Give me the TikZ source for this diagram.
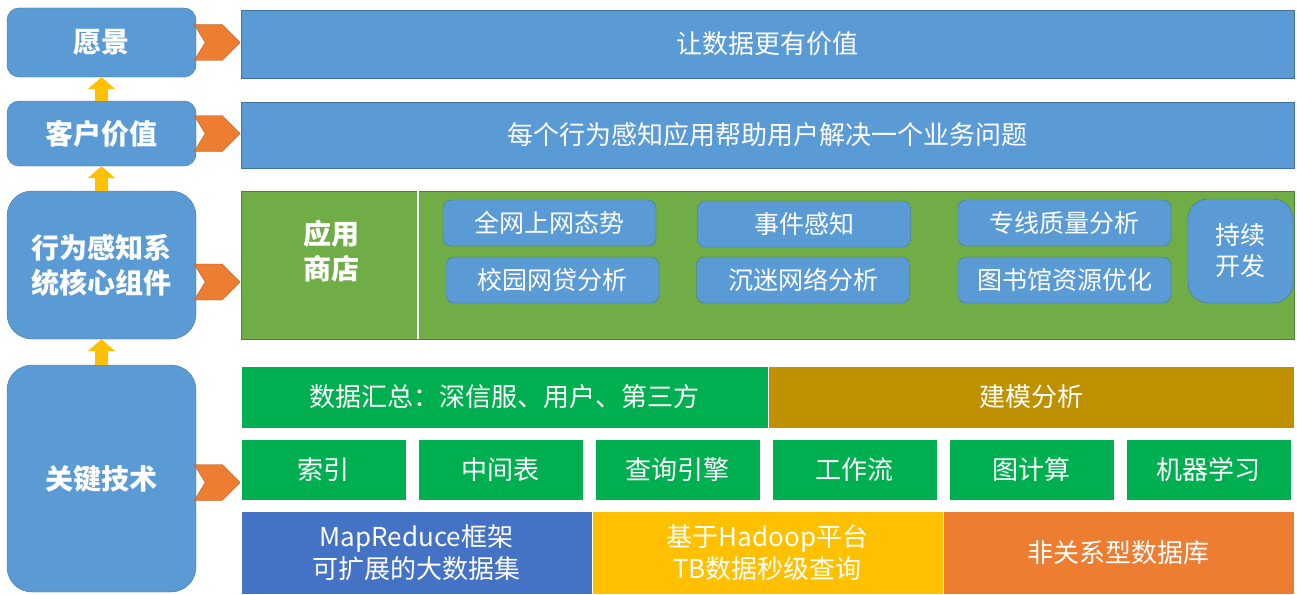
\documentclass[tikz,border=0pt]{standalone}
\usepackage{fontspec}
\setmainfont{Noto Sans CJK SC}
\usetikzlibrary{calc,arrows.meta}

\definecolor{boxblue}{HTML}{5B9BD5}
\definecolor{boxline}{HTML}{41719C}
\definecolor{storegreen}{HTML}{70AD47}
\definecolor{storeline}{HTML}{507E32}
\definecolor{techgreen}{HTML}{00B050}
\definecolor{modelgold}{HTML}{BF9000}
\definecolor{mrblue}{HTML}{4472C4}
\definecolor{hdyellow}{HTML}{FFC000}
\definecolor{nsorange}{HTML}{ED7D31}
\definecolor{chevline}{HTML}{AE5A21}

\tikzset{
  side/.style={draw=boxline, fill=boxblue, minimum width=189pt, text=white, align=center, inner sep=0pt, font=\fontsize{28}{35}\selectfont\bfseries},
  band/.style={draw=boxline, fill=boxblue, minimum width=1053pt, text=white, inner sep=0pt, font=\fontsize{26}{32}\selectfont},
  app/.style={draw=boxline, fill=boxblue, rounded corners=8pt, minimum width=213pt, minimum height=46pt, text=white, inner sep=0pt, font=\fontsize{25}{31}\selectfont},
  layer/.style={draw=white, line width=0.4pt, text=white, align=center, inner sep=0pt, font=\fontsize{26}{32}\selectfont},
  chev/.style={draw=chevline, fill=nsorange},
  up/.style={draw=hdyellow, line width=13pt, -{Triangle[width=27pt,length=12pt]}}
}

\begin{document}
\begin{tikzpicture}[x=1pt,y=-1pt]
\useasboundingbox (0,0) rectangle (1297,594);

% left column
\node[side, rounded corners=12pt, minimum height=69pt] (vision) at (101.5,42.5) {愿景};
\node[side, rounded corners=12pt, minimum height=65pt] (value) at (101.5,133.5) {客户价值};
\node[side, rounded corners=25pt, minimum height=148pt] (core) at (101.5,265) {行为感知系\\统核心组件};
\node[side, rounded corners=25pt, minimum height=227pt] (keytech) at (101.5,478.5) {关键技术};

\draw[up] (value.north) -- (vision.south);
\draw[up] (core.north) -- (value.south);
\draw[up] (keytech.north) -- (core.south);

% right column
\node[band, minimum height=68pt] (goal) at (767.5,44) {让数据更有价值};
\node[band, minimum height=66pt] (mission) at (767.5,135) {每个行为感知应用帮助用户解决一个业务问题};
\node[band, draw=storeline, fill=storegreen, minimum height=148pt] (store) at (767.5,265) {};
\draw[white, line width=1.5pt] ($(store.north west)+(177,0)$) -- ($(store.south west)+(177,0)$);
\node[text=white, align=center, font=\fontsize{28}{35}\selectfont\bfseries] (storename) at (331,251) {应用\\商店};

\node[app] (netstate) at (549.5,223) {全网上网态势};
\node[app] (loan) at (552.5,280) {校园网贷分析};
\node[app] (event) at (804,224) {事件感知};
\node[app] (addict) at (803,280) {沉迷网络分析};
\node[app] (line) at (1064.5,223) {专线质量分析};
\node[app] (library) at (1064.5,280) {图书馆资源优化};
\node[app, rounded corners=20pt, minimum width=105pt, minimum height=104pt, align=center] (devel) at (1240.5,251) {持续\\开发};

% key technology layers
\node[layer, fill=techgreen, minimum width=527pt, minimum height=62pt] (collect) at (504.5,397) {数据汇总：深信服、用户、第三方};
\node[layer, fill=modelgold, minimum width=526pt, minimum height=62pt] (model) at (1031,397) {建模分析};

\foreach \t [count=\i from 0] in {索引,中间表,查询引擎,工作流,图计算,机器学习}
  \node[layer, fill=techgreen, minimum width=165pt, minimum height=61pt] (mod\i) at (323.5+177*\i,469.5) {\t};

\node[layer, fill=mrblue, minimum width=351pt, minimum height=83pt] (mapred) at (416.5,552.5) {MapReduce框架\\可扩展的大数据集};
\node[layer, fill=hdyellow, minimum width=351pt, minimum height=83pt] (hadoop) at (767.5,552.5) {基于Hadoop平台\\TB数据秒级查询};
\node[layer, fill=nsorange, minimum width=351pt, minimum height=83pt] (nosql) at (1118.5,552.5) {非关系型数据库};

% chevrons
\foreach \n/\dy in {vision/0,value/0,core/17,keytech/4}
  \draw[chev] ($(\n.east)+(-2,\dy-18)$) -- ++(28,0) -- ++(18,18) -- ++(-18,18) -- ++(-28,0) -- ++(11,-18) -- cycle;
\end{tikzpicture}
\end{document}
